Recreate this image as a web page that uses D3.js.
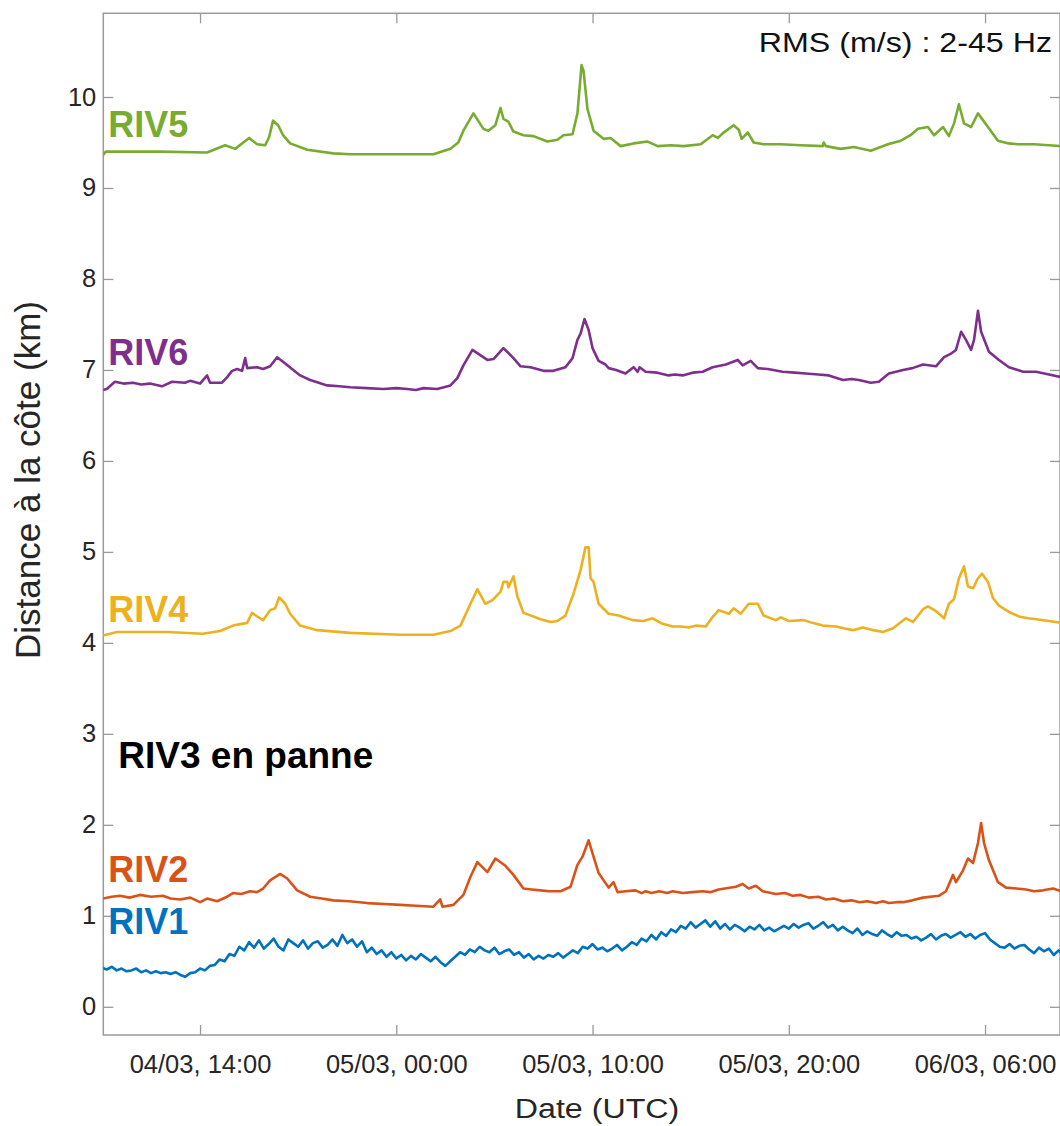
<!DOCTYPE html>
<html>
<head>
<meta charset="utf-8">
<script src="https://cdn.jsdelivr.net/npm/d3@7"></script>
<style>
  body { margin: 0; background: #fff; }
  svg { display: block; font-family: "Liberation Sans", Arial, Helvetica, sans-serif; }
</style>
</head>
<body>
<div id="chart"></div>
<script>
// times are hours since 04/03 00:00 UTC, values in km
var riv5 = [[9.05,9.36],[9.2,9.40],[11.96,9.40],[14.36,9.39],[15.28,9.47],[15.79,9.43],[16.14,9.49],[16.5,9.55],[16.91,9.48],[17.32,9.47],[17.52,9.56],[17.72,9.74],[17.98,9.69],[18.23,9.58],[18.59,9.49],[19.46,9.42],[20.79,9.38],[21.65,9.37],[25.89,9.37],[26.76,9.43],[27.16,9.50],[27.42,9.63],[27.93,9.82],[28.44,9.65],[28.69,9.63],[29.05,9.69],[29.31,9.88],[29.46,9.76],[29.71,9.73],[29.97,9.62],[30.48,9.58],[30.99,9.57],[31.7,9.51],[32.21,9.53],[32.52,9.58],[32.98,9.59],[33.23,9.82],[33.44,10.35],[33.54,10.29],[33.74,9.87],[34.05,9.63],[34.56,9.54],[34.92,9.55],[35.43,9.46],[36.09,9.49],[36.81,9.51],[37.32,9.46],[38.0,9.47],[38.64,9.46],[39.51,9.48],[40.12,9.58],[40.38,9.55],[40.63,9.60],[41.19,9.69],[41.45,9.64],[41.6,9.54],[41.91,9.61],[42.21,9.50],[42.72,9.48],[43.6,9.48],[44.61,9.47],[45.73,9.46],[45.78,9.50],[45.89,9.46],[46.65,9.43],[47.32,9.45],[48.18,9.41],[49.05,9.48],[49.71,9.52],[50.2,9.58],[50.58,9.65],[51.09,9.67],[51.4,9.58],[51.86,9.67],[52.16,9.57],[52.42,9.71],[52.67,9.92],[52.93,9.71],[53.29,9.67],[53.64,9.82],[54.15,9.67],[54.66,9.52],[55.2,9.49],[55.68,9.48],[56.5,9.48],[57.88,9.46]];

var riv6 = [[9.05,6.78],[9.25,6.79],[9.66,6.87],[10.1,6.85],[10.58,6.86],[11.0,6.84],[11.45,6.85],[12.06,6.82],[12.57,6.87],[13.23,6.86],[13.49,6.88],[14.0,6.85],[14.36,6.94],[14.51,6.86],[15.12,6.86],[15.38,6.92],[15.63,6.99],[15.89,7.01],[16.14,6.99],[16.3,7.13],[16.4,7.02],[16.91,7.03],[17.21,7.01],[17.57,7.04],[17.93,7.14],[18.34,7.07],[19.1,6.94],[19.61,6.89],[20.48,6.83],[21.1,6.82],[21.65,6.81],[22.5,6.80],[23.34,6.79],[24.0,6.80],[24.56,6.79],[25.0,6.78],[25.38,6.80],[26.09,6.79],[26.76,6.83],[27.11,6.91],[27.42,7.05],[27.88,7.22],[28.64,7.11],[28.95,7.12],[29.46,7.24],[29.97,7.13],[30.33,7.04],[30.84,7.03],[31.5,6.99],[32.01,6.99],[32.62,7.03],[32.98,7.13],[33.23,7.33],[33.39,7.40],[33.59,7.56],[33.8,7.44],[34.0,7.24],[34.31,7.10],[34.66,7.06],[34.82,7.02],[35.2,7.00],[35.68,6.96],[36.09,7.03],[36.3,6.98],[36.4,7.03],[36.7,6.98],[37.3,6.97],[37.88,6.94],[38.2,6.95],[38.59,6.94],[39.1,6.97],[39.61,6.98],[40.12,7.03],[40.79,7.06],[41.4,7.11],[41.65,7.05],[42.06,7.10],[42.42,7.02],[42.93,7.01],[43.69,6.98],[44.3,6.97],[44.87,6.96],[45.5,6.95],[46.04,6.94],[46.76,6.89],[47.2,6.90],[47.57,6.89],[48.18,6.86],[48.59,6.87],[49.1,6.96],[49.82,7.00],[50.3,7.02],[50.84,7.06],[51.5,7.04],[51.91,7.14],[52.27,7.18],[52.52,7.22],[52.78,7.42],[53.03,7.33],[53.29,7.22],[53.44,7.33],[53.64,7.65],[53.8,7.42],[54.2,7.20],[54.71,7.11],[55.22,7.03],[55.94,6.98],[56.6,6.98],[57.26,6.95],[57.88,6.92]];

var riv4 = [[9.05,4.08],[9.77,4.12],[12.32,4.12],[14.15,4.10],[15.02,4.13],[15.68,4.19],[16.4,4.22],[16.65,4.33],[16.91,4.29],[17.21,4.25],[17.57,4.36],[17.83,4.38],[18.03,4.50],[18.34,4.43],[18.59,4.32],[19.1,4.19],[19.97,4.14],[21.65,4.11],[24.2,4.09],[25.89,4.09],[26.76,4.13],[27.27,4.19],[27.78,4.43],[28.13,4.59],[28.54,4.43],[28.9,4.47],[29.31,4.56],[29.46,4.67],[29.66,4.67],[29.71,4.61],[29.97,4.73],[30.17,4.51],[30.48,4.33],[30.99,4.29],[31.35,4.26],[31.86,4.23],[32.21,4.24],[32.62,4.30],[33.03,4.54],[33.39,4.80],[33.64,5.05],[33.8,5.05],[33.9,4.71],[34.05,4.67],[34.31,4.43],[34.82,4.32],[35.33,4.30],[36.04,4.25],[36.6,4.24],[37.06,4.27],[37.57,4.21],[38.08,4.18],[38.5,4.18],[38.9,4.17],[39.3,4.19],[39.77,4.18],[40.1,4.28],[40.43,4.36],[40.94,4.32],[41.19,4.38],[41.55,4.32],[41.96,4.43],[42.42,4.43],[42.72,4.30],[43.34,4.25],[43.59,4.28],[44.0,4.24],[44.77,4.25],[45.2,4.22],[45.73,4.19],[46.4,4.18],[46.8,4.16],[47.27,4.14],[47.78,4.17],[48.3,4.14],[48.8,4.12],[49.31,4.16],[49.97,4.27],[50.33,4.23],[50.84,4.37],[51.09,4.40],[51.5,4.35],[51.91,4.27],[52.16,4.43],[52.42,4.48],[52.67,4.71],[52.93,4.84],[53.13,4.62],[53.39,4.60],[53.64,4.71],[53.85,4.76],[54.15,4.67],[54.41,4.49],[54.71,4.41],[55.22,4.34],[55.73,4.29],[56.2,4.27],[56.6,4.26],[57.26,4.24],[57.88,4.22]];

var riv2 = [[9.05,1.19],[9.5,1.21],[9.92,1.22],[10.4,1.20],[10.94,1.23],[11.5,1.21],[12.11,1.22],[12.5,1.19],[12.98,1.18],[13.5,1.20],[14.0,1.15],[14.36,1.19],[14.87,1.16],[15.38,1.21],[15.68,1.25],[16.1,1.24],[16.55,1.27],[16.9,1.26],[17.21,1.30],[17.57,1.39],[18.08,1.46],[18.44,1.41],[18.95,1.28],[19.61,1.21],[20.2,1.19],[20.79,1.17],[21.6,1.16],[22.52,1.14],[23.4,1.13],[24.2,1.12],[25.0,1.11],[25.89,1.10],[26.24,1.18],[26.35,1.10],[26.91,1.12],[27.42,1.23],[27.78,1.43],[28.13,1.59],[28.64,1.48],[29.05,1.63],[29.56,1.55],[29.97,1.45],[30.48,1.30],[30.9,1.29],[31.35,1.28],[31.8,1.27],[32.37,1.27],[32.88,1.32],[33.23,1.56],[33.49,1.65],[33.8,1.83],[34.05,1.65],[34.31,1.47],[34.82,1.31],[35.07,1.37],[35.28,1.26],[35.7,1.27],[36.19,1.28],[36.5,1.25],[36.7,1.27],[37.0,1.25],[37.4,1.27],[37.8,1.25],[38.08,1.27],[38.6,1.25],[39.1,1.26],[39.6,1.27],[40.0,1.26],[40.43,1.29],[41.3,1.32],[41.65,1.35],[41.96,1.30],[42.32,1.33],[42.67,1.27],[43.34,1.24],[43.8,1.25],[44.2,1.22],[44.6,1.23],[45.02,1.20],[45.5,1.21],[45.9,1.18],[46.3,1.19],[46.76,1.16],[47.2,1.17],[47.6,1.15],[48.0,1.16],[48.44,1.14],[48.8,1.16],[49.1,1.14],[49.5,1.15],[49.82,1.15],[50.3,1.17],[50.84,1.20],[51.65,1.22],[52.01,1.27],[52.37,1.45],[52.52,1.37],[52.88,1.50],[53.13,1.63],[53.39,1.58],[53.64,1.80],[53.8,2.02],[53.95,1.80],[54.2,1.61],[54.66,1.37],[55.07,1.31],[55.6,1.30],[56.09,1.29],[56.5,1.27],[56.96,1.28],[57.47,1.30],[57.88,1.27]];

// RIV1 sampled every 15 min from 9:00 (04/03)
var riv1Start = 9.0;
var riv1Step = 0.25;
var riv1 = [
  0.43,0.41,0.44,0.40, 0.42,0.39,0.40,0.42, 0.38,0.40,0.37,0.39, 0.37,0.38,0.36,0.38,
  0.35,0.33,0.37,0.38, 0.42,0.40,0.45,0.46, 0.52,0.50,0.58,0.56, 0.66,0.62,0.71,0.65,
  0.73,0.64,0.69,0.75, 0.66,0.62,0.74,0.70, 0.66,0.73,0.64,0.70, 0.72,0.65,0.68,0.74,
  0.67,0.79,0.70,0.74, 0.66,0.72,0.60,0.65, 0.58,0.62,0.55,0.60, 0.53,0.57,0.51,0.56,
  0.52,0.58,0.54,0.50, 0.55,0.49,0.45,0.50, 0.55,0.60,0.57,0.63, 0.60,0.66,0.62,0.60,
  0.65,0.58,0.61,0.63, 0.57,0.60,0.54,0.58, 0.52,0.56,0.53,0.57, 0.55,0.59,0.54,0.58,
  0.62,0.59,0.66,0.64, 0.69,0.63,0.65,0.61, 0.64,0.68,0.62,0.66, 0.71,0.68,0.75,0.72,
  0.79,0.74,0.82,0.78, 0.85,0.82,0.89,0.86, 0.93,0.87,0.91,0.95, 0.88,0.94,0.86,0.91,
  0.85,0.90,0.87,0.83, 0.88,0.85,0.90,0.84, 0.87,0.83,0.86,0.89, 0.86,0.91,0.87,0.90,
  0.92,0.86,0.89,0.93, 0.87,0.90,0.84,0.88, 0.84,0.81,0.86,0.79, 0.83,0.80,0.78,0.84,
  0.80,0.77,0.82,0.78, 0.79,0.75,0.77,0.73, 0.76,0.80,0.74,0.78, 0.80,0.76,0.79,0.82,
  0.77,0.80,0.75,0.79, 0.81,0.74,0.70,0.66, 0.65,0.69,0.64,0.67, 0.68,0.63,0.59,0.65,
  0.61,0.64,0.57,0.62, 0.56
];

var seriesNames = ["RIV1","RIV2","RIV4","RIV6","RIV5"];
var seriesColors = ["#0072BD","#D95319","#EDB120","#7E2F8E","#77AC30"];
var labelLevels = [0.80,1.37,4.23,7.05,9.56];   // km, baseline of each station name
var yTicks = [0,1,2,3,4,5,6,7,8,9,10];
var xTickHours = [14,24,34,44,54];
var xRangeHours = [9.07,57.82];
var yRange = [-0.31,10.92];

var W = 1060, H = 1126;
var mLeft = 103.3, mRight = 1060, mTop = 13.3, mBottom = 1035;
var stretch = 1.15, tickStretch = 1.02;
var axisGrey = "#9a9a9a";
var textColor = "#262626";

var t0 = Date.UTC(2017,2,4);
function toDate(h) { return new Date(t0 + h*3600000); }

var riv1Pts = riv1.map(function(v,i) { return [riv1Start + i*riv1Step, v]; });
var allSeries = [riv1Pts, riv2, riv4, riv6, riv5];

var svg = d3.select("#chart").append("svg").attr("width",W).attr("height",H);

var xScale = d3.scaleUtc().domain(xRangeHours.map(toDate)).range([mLeft,mRight]);
var yScale = d3.scaleLinear().domain(yRange).range([mBottom,mTop]);

svg.append("defs").append("clipPath").attr("id","plotclip")
  .append("rect").attr("x",mLeft).attr("y",mTop).attr("width",mRight-mLeft).attr("height",mBottom-mTop);

// axes with inward ticks
var fmt = d3.utcFormat("%d/%m, %H:%M");
var xAxisB = svg.append("g").attr("transform","translate(0,"+mBottom+")")
  .call(d3.axisBottom(xScale).tickValues(xTickHours.map(toDate)).tickFormat(fmt).tickSize(-10).tickPadding(20));
var xAxisT = svg.append("g").attr("transform","translate(0,"+mTop+")")
  .call(d3.axisTop(xScale).tickValues(xTickHours.map(toDate)).tickFormat("").tickSize(-10));
var yAxisL = svg.append("g").attr("transform","translate("+mLeft+",0)")
  .call(d3.axisLeft(yScale).tickValues(yTicks).tickSize(-10).tickPadding(7));
var yAxisR = svg.append("g").attr("transform","translate("+mRight+",0)")
  .call(d3.axisRight(yScale).tickValues(yTicks).tickFormat("").tickSize(-10));

[xAxisB,xAxisT,yAxisL,yAxisR].forEach(function(a) {
  a.select(".domain").remove();
  a.selectAll(".tick line").attr("stroke",axisGrey).attr("stroke-width",1.3);
  a.selectAll("text").attr("fill",textColor).attr("font-size","25px")
    .attr("font-family","'Liberation Sans', Arial, sans-serif");
});
xAxisB.selectAll("text").attr("transform","scale("+tickStretch+",1)");
yAxisL.selectAll("text").attr("x",-7/tickStretch).attr("transform","scale("+tickStretch+",1)");

svg.append("rect").attr("x",mLeft).attr("y",mTop).attr("width",mRight-mLeft).attr("height",mBottom-mTop)
  .attr("fill","none").attr("stroke",axisGrey).attr("stroke-width",1.5);

// lines
var line = d3.line()
  .x(function(d) { return xScale(toDate(d[0])); })
  .y(function(d) { return yScale(d[1]); });

svg.append("g").attr("clip-path","url(#plotclip)")
  .selectAll("path").data(allSeries).enter().append("path")
  .attr("d", line)
  .attr("fill","none")
  .attr("stroke", function(d,i) { return seriesColors[i]; })
  .attr("stroke-width",2.6)
  .attr("stroke-linejoin","round");

// station names
svg.selectAll("text.lab").data(seriesNames).enter().append("text")
  .attr("class","lab")
  .attr("x",mLeft+5)
  .attr("y",function(d,i) { return yScale(labelLevels[i]); })
  .attr("fill",function(d,i) { return seriesColors[i]; })
  .attr("font-size","36px").attr("font-weight","bold")
  .text(function(d) { return d; });

svg.append("text").attr("x",mLeft+15).attr("y",yScale(2.63))
  .attr("fill","#000").attr("font-size","37px").attr("font-weight","bold")
  .text("RIV3 en panne");

svg.append("text").attr("transform","translate(1052,52) scale("+stretch+",1)")
  .attr("text-anchor","end").attr("fill","#111").attr("font-size","28px")
  .text("RMS (m/s) : 2-45 Hz");

// axis titles
svg.append("text").attr("transform","translate(597,1118) scale("+stretch+",1)")
  .attr("text-anchor","middle").attr("fill",textColor).attr("font-size","28px")
  .text("Date (UTC)");

svg.append("text").attr("transform","translate(40,480) rotate(-90)")
  .attr("text-anchor","middle").attr("fill",textColor).attr("font-size","35px")
  .text("Distance à la côte (km)");
</script>
</body>
</html>
